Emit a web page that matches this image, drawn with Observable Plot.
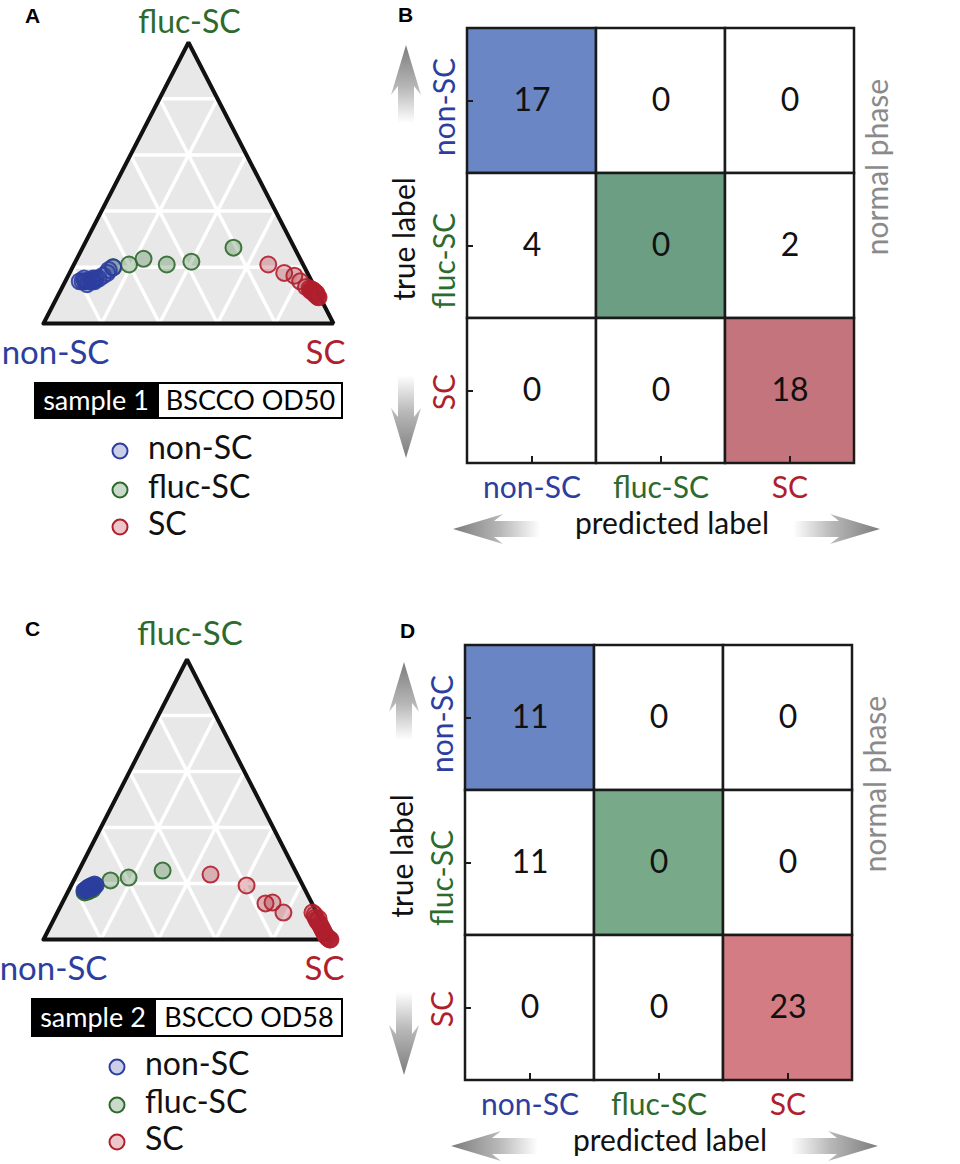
<!DOCTYPE html>
<html><head><meta charset="utf-8">
<script src="https://cdn.jsdelivr.net/npm/d3@7"></script>
<script src="https://cdn.jsdelivr.net/npm/@observablehq/plot@0.6"></script>
<style>
body{margin:0;background:#fff;}
#fig{position:relative;width:960px;height:1164px;overflow:hidden;background:#fff}
.panel{position:absolute}
#overlay{position:absolute;left:0;top:0;pointer-events:none}
</style></head><body><div id="fig"></div>
<script>
// ---------------- data ----------------
const classes = ["non-SC", "fluc-SC", "SC"];
const classColors = ["#2c3e9e", "#2d6a2d", "#b01f2e"];
const gridSteps = [0.2, 0.4, 0.6, 0.8];

// ternary points: [P(fluc-SC), P(SC)] per sample, grouped by true label (P(non-SC) = 1 - both)
const A_nonSC = [[0.15,0.05],[0.15,0.06],[0.15,0.07],[0.15,0.07],[0.15,0.08],[0.15,0.09],[0.16,0.09],[0.15,0.10],[0.16,0.10],[0.16,0.06],[0.14,0.08],[0.15,0.09],[0.16,0.11],[0.17,0.12],[0.18,0.13],[0.19,0.13],[0.20,0.14]];
const A_flucSC = [[0.20,0.14],[0.21,0.19],[0.23,0.23],[0.21,0.32],[0.22,0.40],[0.27,0.52]];
const A_SC = [[0.21,0.67],[0.18,0.74],[0.17,0.78],[0.15,0.81],[0.13,0.84],[0.125,0.855],[0.117,0.862],[0.121,0.864],[0.114,0.871],[0.110,0.876],[0.117,0.873],[0.107,0.881],[0.103,0.886],[0.110,0.883],[0.100,0.891],[0.107,0.888],[0.096,0.897],[0.093,0.902]];

const C_nonSC = [[0.175,0.055],[0.179,0.060],[0.182,0.062],[0.186,0.064],[0.182,0.069],[0.189,0.069],[0.186,0.074],[0.193,0.074],[0.189,0.080],[0.196,0.080],[0.193,0.085]];
const C_flucSC = [[0.168,0.059],[0.171,0.061],[0.175,0.062],[0.171,0.068],[0.179,0.067],[0.175,0.073],[0.182,0.073],[0.179,0.081],[0.211,0.128],[0.221,0.186],[0.246,0.292]];
const C_SC = [[0.232,0.466],[0.193,0.611],[0.129,0.709],[0.132,0.732],[0.096,0.788],[0.096,0.889],[0.089,0.900],[0.079,0.908],[0.071,0.916],[0.064,0.923],[0.075,0.921],[0.057,0.933],[0.050,0.940],[0.043,0.947],[0.036,0.954],[0.029,0.961],[0.021,0.969],[0.014,0.976],[0.011,0.981],[0.007,0.986],[0.004,0.991],[0.000,0.997],[0.000,1.000]];

// confusion matrices: rows = true label, columns = predicted label
const B_counts = [[17,0,0],[4,0,2],[0,0,18]];
const D_counts = [[11,0,0],[11,0,0],[0,0,23]];

const sampleNames = ["sample 1", "sample 2"];
const sampleIds = ["BSCCO OD50", "BSCCO OD58"];
const panelLetters = ["A", "B", "C", "D"];

// ---------------- styles ----------------
const FONT = "Lato, 'Open Sans', sans-serif";
const colorOf = c => classColors[classes.indexOf(c)];
const B_diag = ["#6a86c4", "#6c9e84", "#c4747d"];
const D_diag = ["#6985c3", "#78aa8a", "#d37c83"];

const fig = document.getElementById("fig");
function place(node, left, top) {
  const div = document.createElement("div");
  div.className = "panel";
  div.style.left = left + "px";
  div.style.top = top + "px";
  div.appendChild(node);
  fig.appendChild(div);
}

// ---------------- ternary plot ----------------
function ternaryPlot(groups, m) {
  const tern = ([b, c]) => ({x: c + b / 2, y: b});
  const vNon = tern([0, 0]), vSC = tern([0, 1]), vFluc = tern([1, 0]);
  const outline = [vNon, vSC, vFluc, vNon];
  const segs = [];
  gridSteps.forEach((k, i) => {
    segs.push({id: "b" + i, ...tern([k, 0])}, {id: "b" + i, ...tern([k, 1 - k])});
    segs.push({id: "c" + i, ...tern([0, k])}, {id: "c" + i, ...tern([1 - k, k])});
    segs.push({id: "a" + i, ...tern([0, 1 - k])}, {id: "a" + i, ...tern([1 - k, 0])});
  });
  const pts = groups.flatMap(g => g.pts.map(p => ({...tern(p), color: g.color})));
  const labels = [
    {...vFluc, label: "fluc-SC", dx: m.topDx, dy: m.topDy, size: m.topSize},
    {...vNon, label: "non-SC", dx: m.leftDx, dy: 40, size: 33},
    {...vSC, label: "SC", dx: m.rightDx, dy: 40, size: 33}
  ];
  return Plot.plot({
    width: 360, height: 380,
    marginLeft: 43, marginRight: m.right, marginTop: 42, marginBottom: m.bottom,
    x: {domain: [0, 1], axis: null}, y: {domain: [0, 1], axis: null},
    color: {type: "identity"},
    style: {fontFamily: FONT, overflow: "visible", background: "transparent"},
    marks: [
      Plot.line(outline, {x: "x", y: "y", fill: "#e8e8e8", stroke: "none"}),
      Plot.line(segs, {x: "x", y: "y", z: "id", stroke: "#ffffff", strokeWidth: 3.5}),
      Plot.line(outline, {x: "x", y: "y", stroke: "#111", strokeWidth: 4, strokeLinejoin: "miter"}),
      Plot.dot(pts, {x: "x", y: "y", r: 8, stroke: "color", fill: "color", fillOpacity: 0.28, strokeOpacity: 0.9, strokeWidth: 2}),
      ...labels.map(l => Plot.text([l], {x: "x", y: "y", text: "label", lineAnchor: "bottom",
        dx: l.dx, dy: l.dy, fontSize: l.size, fill: colorOf(l.label)}))
    ]
  });
}

// ---------------- confusion matrix ----------------
let gradCount = 0;
function confusionPlot(counts, diag) {
  const W = 590, H = 560, mL = 97, mR = 106, mT = 28, mB = 97;
  const cellW = (W - mL - mR) / 3, cellH = (H - mT - mB) / 3;
  const cells = counts.flatMap((row, i) => row.map((v, j) => ({
    t: classes[i], p: classes[j], v, fill: i === j ? diag[i] : "#ffffff"
  })));
  const rowShift = {"non-SC": 6, "fluc-SC": 15, "SC": 1};
  const svg = Plot.plot({
    width: W, height: H, marginLeft: mL, marginRight: mR, marginTop: mT, marginBottom: mB,
    x: {domain: classes, padding: 0, axis: null},
    y: {domain: classes, padding: 0, axis: null},
    color: {type: "identity"},
    style: {fontFamily: FONT, overflow: "visible", background: "transparent"},
    marks: [
      Plot.cell(cells, {x: "p", y: "t", fill: "fill", stroke: "#1a1a1a", strokeWidth: 2.5}),
      Plot.text(cells, {x: "p", y: "t", text: d => String(d.v), fontSize: 32, fill: "#111"}),
      Plot.tickX(classes, {x: d => d, y: () => classes[2], insetTop: cellH - 7, stroke: "#1a1a1a", strokeWidth: 2}),
      Plot.tickY(classes, {y: d => d, x: () => classes[0], insetRight: cellW - 6, stroke: "#1a1a1a", strokeWidth: 2}),
      Plot.text(classes, {x: d => d, text: d => d, frameAnchor: "bottom", lineAnchor: "bottom", dy: 34,
        fill: d => colorOf(d), fontSize: 30}),
      ...classes.map(c => Plot.text([c], {y: d => d, text: d => d, frameAnchor: "left", textAnchor: "middle",
        lineAnchor: "middle", dx: -22, dy: rowShift[c], rotate: -90, fill: colorOf(c), fontSize: 30})),
      Plot.text(["true label"], {text: d => d, frameAnchor: "left", textAnchor: "middle", lineAnchor: "middle",
        dx: -62, dy: -7, rotate: -90, fontSize: 30, fill: "#111"}),
      Plot.text(["predicted label"], {text: d => d, frameAnchor: "bottom", lineAnchor: "bottom", dx: 11, dy: 70, fontSize: 30, fill: "#111"}),
      Plot.text(["normal phase"], {text: d => d, frameAnchor: "right", textAnchor: "middle", lineAnchor: "middle",
        dx: 24, dy: -79, rotate: -90, fontSize: 30, fill: "#8a8a8a"})
    ]
  });
  // gradient arrows (decoration)
  const s = d3.select(svg);
  const defs = s.append("defs");
  const arrow = (tx, ty, angle, len) => {
    const id = "arrowGrad" + (gradCount++);
    const g = defs.append("linearGradient").attr("id", id).attr("gradientUnits", "userSpaceOnUse")
      .attr("x1", 0).attr("y1", 0).attr("x2", 0).attr("y2", len);
    g.append("stop").attr("offset", 0).attr("stop-color", "#7c7c7c");
    g.append("stop").attr("offset", 0.55).attr("stop-color", "#b8b8b8");
    g.append("stop").attr("offset", 1).attr("stop-color", "#ffffff");
    const hl = 50, hw = 30, sw = 16, notch = 9;
    const d = `M0,0 L${hw / 2},${hl} L${sw / 2},${hl - notch} L${sw / 2},${len} L${-sw / 2},${len} L${-sw / 2},${hl - notch} L${-hw / 2},${hl} Z`;
    s.append("path").attr("d", d).attr("fill", `url(#${id})`)
      .attr("transform", `translate(${tx},${ty}) rotate(${angle})`);
  };
  arrow(mL - 61, mT + 17, 0, 78);
  arrow(mL - 61, H - mB - 5, 180, 83);
  arrow(mL - 14, H - mB + 66, -90, 87);
  arrow(W - mR + 26, H - mB + 66, 90, 87);
  return svg;
}

const groupsA = [
  {pts: A_flucSC, color: classColors[1]},
  {pts: A_nonSC, color: classColors[0]},
  {pts: A_SC, color: classColors[2]}
];
const groupsC = [
  {pts: C_flucSC, color: classColors[1]},
  {pts: C_nonSC, color: classColors[0]},
  {pts: C_SC, color: classColors[2]}
];

place(ternaryPlot(groupsA, {right: 27, bottom: 57, topDx: 1, topDy: -10, topSize: 32, leftDx: 12, rightDx: -8}), 0, 0);
place(ternaryPlot(groupsC, {right: 30, bottom: 58, topDx: 3, topDy: -15, topSize: 33, leftDx: 10, rightDx: -6}), 0, 617);
place(confusionPlot(B_counts, B_diag), 370, 0);
place(confusionPlot(D_counts, D_diag), 368, 617);

// ---------------- overlay: panel letters, sample tags, legends ----------------
const ov = d3.select(fig).append("svg").attr("id", "overlay").attr("width", 960).attr("height", 1164)
  .style("font-family", FONT);

const letterPos = [[25, 23], [398, 22], [25, 636], [400, 638]];
panelLetters.forEach((L, i) => {
  ov.append("text").attr("x", letterPos[i][0]).attr("y", letterPos[i][1]).text(L)
    .style("font-family", "'Liberation Sans', Arial, sans-serif").style("font-weight", "bold").style("font-size", "21px");
});

function legend(k, box, items) {
  const [x0, y0, x1, y1, xm] = box;
  ov.append("rect").attr("x", x0).attr("y", y0).attr("width", xm - x0).attr("height", y1 - y0).attr("fill", "#000");
  ov.append("rect").attr("x", xm).attr("y", y0 + 1).attr("width", x1 - xm - 1).attr("height", y1 - y0 - 2)
    .attr("fill", "#fff").attr("stroke", "#000").attr("stroke-width", 2);
  const base = (y0 + y1) / 2 + 9;
  ov.append("text").attr("x", (x0 + xm) / 2).attr("y", base).attr("text-anchor", "middle")
    .attr("fill", "#fff").style("font-size", "27px").text(sampleNames[k]);
  ov.append("text").attr("x", (xm + x1) / 2).attr("y", base).attr("text-anchor", "middle")
    .attr("fill", "#000").style("font-size", "27px").text(sampleIds[k]);
  const [cx, tx, ys] = items;
  classes.forEach((c, i) => {
    ov.append("circle").attr("cx", cx).attr("cy", ys[i]).attr("r", 7.5)
      .attr("fill", classColors[i]).attr("fill-opacity", 0.25)
      .attr("stroke", classColors[i]).attr("stroke-width", 2);
    ov.append("text").attr("x", tx).attr("y", ys[i] + 8).attr("fill", "#111")
      .style("font-size", "32px").text(c);
  });
}
legend(0, [34, 382, 343, 419, 158], [120, 148, [451, 490, 527]]);
legend(1, [31, 998, 343, 1037, 155], [117, 145, [1067, 1105, 1142]]);
</script></body></html>
